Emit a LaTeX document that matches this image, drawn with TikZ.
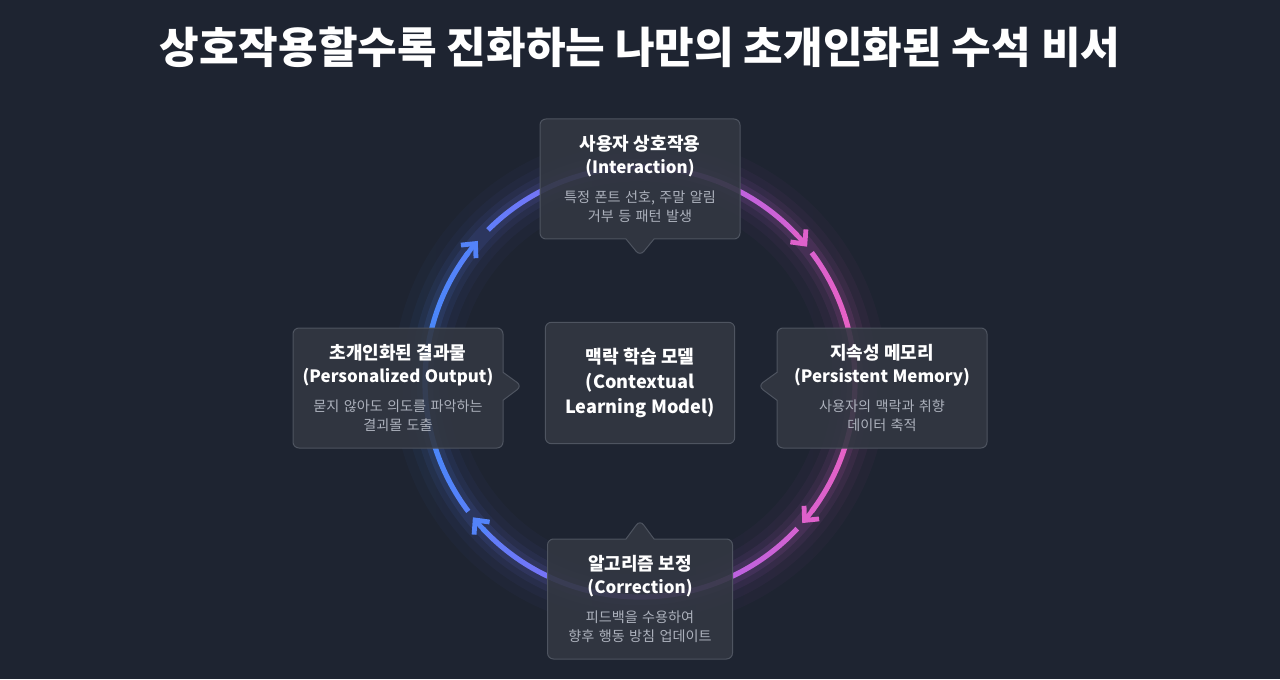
\documentclass[tikz,border=0pt]{standalone}
\usepackage{fontspec}
\setmainfont{Noto Sans CJK KR}
\usetikzlibrary{arrows.meta}
\usetikzlibrary{calc}
\usetikzlibrary{shapes.callouts}
\pgfdeclarelayer{edgelayer}
\pgfdeclarelayer{nodelayer}
\pgfsetlayers{edgelayer,nodelayer,main}
\definecolor{bgnavy}{RGB}{30,36,49}
\definecolor{cardfill}{RGB}{50,55,66}
\definecolor{cardline}{RGB}{78,84,96}
\definecolor{cardgray}{RGB}{172,177,188}
\definecolor{ringblue}{RGB}{62,140,250}
\definecolor{ringviolet}{RGB}{155,100,245}
\definecolor{ringpink}{RGB}{242,96,190}
\colorlet{tipright}{ringpink!77!ringviolet}
\colorlet{tipleft}{ringblue!77!ringviolet}
\tikzstyle{none}=[inner sep=0pt]
\tikzstyle{card}=[rectangle callout, rounded corners=4.5pt, fill=cardfill, fill opacity=0.9, text opacity=1, draw=cardline, line width=0.75pt, minimum height=90pt, inner sep=0pt, align=center, callout pointer width=21pt]
\tikzstyle{hubcard}=[rectangle, rounded corners=4.5pt, fill=cardfill, fill opacity=0.9, text opacity=1, draw=cardline, line width=0.75pt, minimum width=142pt, minimum height=91pt, inner sep=0pt, align=center, text width=138pt]
\tikzstyle{ringshade}=[left color=ringblue, right color=ringpink, middle color=ringviolet]
\tikzstyle{ringtip}=[line width=3.6pt, line cap=round, -{Straight Barb[length=8pt, width=15pt]}]
\newcommand{\cardtext}[4]{\fontsize{13.5}{17.5}\selectfont\bfseries\color{white}#1\par
  \fontsize{12.7}{17.5}\selectfont #2\par
  \fontsize{10.6}{21.5}\selectfont\mdseries{\color{cardgray}#3}\par
  \fontsize{10.6}{14.5}\selectfont{\color{cardgray}#4}\par}

\begin{document}
\begin{tikzpicture}[x=0.75pt, y=0.75pt]
	\useasboundingbox (0,0) rectangle (1280,679);
	\begin{pgfonlayer}{edgelayer}
		\fill [bgnavy] (0,0) rectangle (1280,679);
		\coordinate (hub) at (640,297);
		% soft glow round the cycle
		\foreach \w/\o in {32/0.03, 22/0.045, 14/0.07, 8/0.11} {
			\begin{scope}[shift={(hub)}]
				\clip (215+\w,0) arc [start angle=0, end angle=360, radius=215+\w] -- (215-\w,0) arc [start angle=360, end angle=0, radius=215-\w] -- cycle;
				\shade [ringshade, fill opacity=\o] (-260,-260) rectangle (260,260);
			\end{scope}
		}
		% ring segments
		\begin{scope}[shift={(hub)}]
			\clip \foreach \a/\b in {135/43, 37/-37, -43/-137, -143/-217} {
				(\a:217.6) arc [start angle=\a, end angle=\b, radius=217.6] -- (\b:212.4) arc [start angle=\b, end angle=\a, radius=212.4] -- cycle
			};
			\shade [ringshade] (-240,-240) rectangle (240,240);
		\end{scope}
		\foreach \a/\c in {44/tipright, -36/tipright, -136/tipleft, 144/tipleft}
			\draw [style=ringtip, \c] ($(hub)+(\a:215)$) arc [start angle=\a, end angle=\a-5, radius=215];
	\end{pgfonlayer}
	\begin{pgfonlayer}{nodelayer}
		\node [style=card, minimum width=150pt, text width=146pt, callout absolute pointer={(640,423)}] (interaction) at (640,500)
			{\cardtext{사용자 상호작용}{(Interaction)}{특정 폰트 선호, 주말 알림}{거부 등 패턴 발생}};
		\node [style=card, minimum width=157.5pt, text width=154pt, callout absolute pointer={(758,293)}] (memory) at (882,291)
			{\cardtext{지속성 메모리}{(Persistent Memory)}{사용자의 맥락과 취향}{데이터 축적}};
		\node [style=card, minimum width=138.75pt, text width=136pt, callout absolute pointer={(640,159)}] (correction) at (640,80)
			{\cardtext{알고리즘 보정}{(Correction)}{피드백을 수용하여}{향후 행동 방침 업데이트}};
		\node [style=card, minimum width=157.5pt, text width=154pt, callout absolute pointer={(522,293)}] (output) at (398,291)
			{\cardtext{초개인화된 결과물}{(Personalized Output)}{묻지 않아도 의도를 파악하는}{결괴몰 도출}};
		\node [style=hubcard] (model) at (640,296)
			{\fontsize{13.6}{19}\selectfont\bfseries\color{white}맥락 학습 모델\par (Contextual\par Learning Model)\par};
		\node [style=none, text=white] (headline) at (640,632)
			{\fontsize{32.3}{36}\selectfont\bfseries 상호작용할수록 진화하는 나만의 초개인화된 수석 비서};
	\end{pgfonlayer}
\end{tikzpicture}
\end{document}
